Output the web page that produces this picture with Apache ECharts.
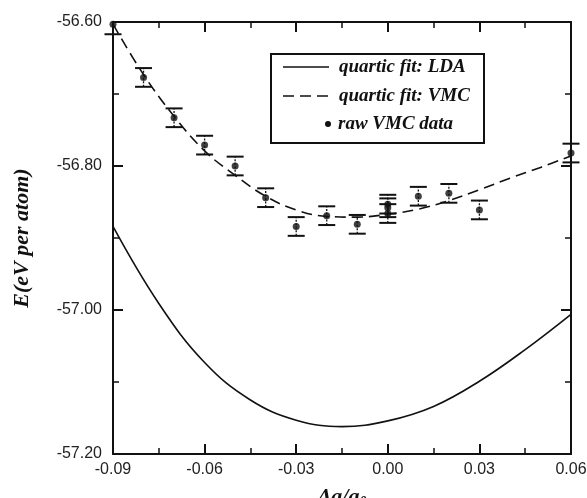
<!DOCTYPE html>
<html>
<head>
<meta charset="utf-8">
<title>quartic fit: LDA vs VMC</title>
<script src="https://cdn.jsdelivr.net/npm/echarts@6/dist/echarts.min.js"></script>
<style>
  html, body { margin: 0; padding: 0; background: #fff; }
  #chart { width: 587px; height: 498px; }
</style>
</head>
<body>
<div id="chart"></div>
<script>
// LDA quartic fit
const ldaX = [-0.09, -0.075, -0.06, -0.045, -0.03, -0.015, 0.0, 0.015, 0.03, 0.045, 0.06]
const ldaE = [-56.884, -56.991, -57.073, -57.125, -57.153, -57.162, -57.154, -57.134, -57.099, -57.055, -57.006]

// VMC quartic fit
const vmcFitX = [-0.09, -0.08, -0.07, -0.06, -0.05, -0.04, -0.03, -0.02, -0.01, 0.0, 0.01, 0.02, 0.03, 0.04, 0.05, 0.06]
const vmcFitE = [-56.603, -56.673, -56.731, -56.779, -56.813, -56.842, -56.861, -56.870, -56.871, -56.867, -56.860, -56.848, -56.833, -56.817, -56.802, -56.786]

// raw VMC data with error bars
const vmcX = [-0.09, -0.08, -0.07, -0.06, -0.05, -0.04, -0.03, -0.02, -0.01, 0.0, 0.0, 0.0, 0.01, 0.02, 0.03, 0.06]
const vmcE = [-56.603, -56.677, -56.733, -56.771, -56.800, -56.844, -56.884, -56.869, -56.881, -56.853, -56.858, -56.866, -56.842, -56.838, -56.861, -56.782]
const vmcErr = [0.014, 0.013, 0.013, 0.013, 0.013, 0.013, 0.013, 0.013, 0.013, 0.013, 0.013, 0.013, 0.013, 0.013, 0.013, 0.013]

const xTicks = { min: -0.09, max: 0.06, interval: 0.03 }
const yTicks = { min: -57.2, max: -56.6, interval: 0.2 }

const ink = '#111'
const sansFont = '"Liberation Sans", Arial, sans-serif'
const serifFont = '"Liberation Serif", "Times New Roman", serif'

const chart = echarts.init(document.getElementById('chart'), null, { renderer: 'canvas' })

const fmt = v => (Math.abs(v) < 1e-9 ? 0 : v).toFixed(2)

// common axis look: thick frame, ticks pointing inward
function axisBase(showLabel) {
  return {
    type: 'value',
    axisLine: { show: true, onZero: false, lineStyle: { color: ink, width: 2 } },
    axisTick: { show: true, inside: true, length: 10, lineStyle: { color: ink, width: 2 } },
    minorTick: { show: true, splitNumber: 2, length: 6, lineStyle: { color: ink, width: 1.5 } },
    splitLine: { show: false },
    minorSplitLine: { show: false },
    axisLabel: {
      show: showLabel,
      formatter: fmt,
      color: '#222',
      fontFamily: sansFont,
      fontSize: 16
    }
  }
}

const xBottom = Object.assign(axisBase(true), xTicks, {
  position: 'bottom',
  name: '{a|Δa/a}{s|0}',
  nameLocation: 'middle',
  nameGap: 31,
  nameTextStyle: {
    rich: {
      a: { fontFamily: serifFont, fontSize: 22, fontWeight: 'bold', fontStyle: 'italic', color: '#111' },
      s: { fontFamily: serifFont, fontSize: 14, fontWeight: 'bold', fontStyle: 'italic', color: '#111', verticalAlign: 'bottom', padding: [10, 0, 0, 0] }
    }
  }
})
xBottom.axisLabel.margin = 8

const xTop = Object.assign(axisBase(false), xTicks, { position: 'top' })

const yLeft = Object.assign(axisBase(true), yTicks, {
  position: 'left',
  name: 'E(eV per atom)',
  nameLocation: 'middle',
  nameGap: 80,
  nameTextStyle: {
    fontFamily: serifFont,
    fontSize: 22,
    fontWeight: 'bold',
    fontStyle: 'italic',
    color: '#111'
  }
})
yLeft.axisLabel.margin = 11

const yRight = Object.assign(axisBase(false), yTicks, { position: 'right' })

const option = {
  animation: false,
  backgroundColor: '#fff',
  grid: { left: 113, right: 16, top: 22, bottom: 44, outerBoundsMode: 'none', containLabel: false },
  xAxis: [xBottom, xTop],
  yAxis: [yLeft, yRight],
  graphic: [
    // legend box, drawn by hand to match the framed key
    {
      type: 'group',
      left: 270,
      top: 53,
      children: [
        { type: 'rect', shape: { x: 0, y: 0, width: 213, height: 89 }, style: { fill: '#fff', stroke: ink, lineWidth: 2 } },
        { type: 'line', shape: { x1: 12, y1: 13, x2: 58, y2: 13 }, style: { stroke: ink, lineWidth: 1.6 } },
        { type: 'text', x: 68, y: 13, style: { text: 'quartic fit: LDA', font: 'italic bold 19px ' + serifFont, fill: '#111', verticalAlign: 'middle' } },
        { type: 'line', shape: { x1: 12, y1: 42, x2: 58, y2: 42 }, style: { stroke: ink, lineWidth: 1.6, lineDash: [11, 6] } },
        { type: 'text', x: 68, y: 42, style: { text: 'quartic fit: VMC', font: 'italic bold 19px ' + serifFont, fill: '#111', verticalAlign: 'middle' } },
        { type: 'circle', shape: { cx: 57, cy: 70, r: 3 }, style: { fill: ink } },
        { type: 'text', x: 67, y: 70, style: { text: 'raw VMC data', font: 'italic bold 19px ' + serifFont, fill: '#111', verticalAlign: 'middle' } }
      ]
    }
  ],
  series: [
    {
      name: 'quartic fit: LDA',
      type: 'line',
      data: ldaX.map((x, i) => [x, ldaE[i]]),
      smooth: 0.4,
      symbol: 'none',
      lineStyle: { color: ink, width: 1.6 }
    },
    {
      name: 'quartic fit: VMC',
      type: 'line',
      data: vmcFitX.map((x, i) => [x, vmcFitE[i]]),
      smooth: 0.4,
      symbol: 'none',
      lineStyle: { color: ink, width: 1.6, type: [11, 6] }
    },
    {
      name: 'error bars',
      type: 'custom',
      data: vmcX.map((x, i) => [x, vmcE[i] - vmcErr[i], vmcE[i] + vmcErr[i]]),
      renderItem: function (params, api) {
        const x = api.value(0)
        const lo = api.coord([x, api.value(1)])
        const hi = api.coord([x, api.value(2)])
        const top = params.coordSys.y
        const hw = 8.5
        const kids = []
        const stemTop = Math.max(hi[1], top)
        kids.push({ type: 'line', shape: { x1: lo[0], y1: lo[1], x2: hi[0], y2: stemTop }, style: { stroke: ink, lineWidth: 1.3, lineDash: [2, 1.5] } })
        kids.push({ type: 'line', shape: { x1: lo[0] - hw, y1: lo[1], x2: lo[0] + hw, y2: lo[1] }, style: { stroke: ink, lineWidth: 2 } })
        if (hi[1] >= top) {
          kids.push({ type: 'line', shape: { x1: hi[0] - hw, y1: hi[1], x2: hi[0] + hw, y2: hi[1] }, style: { stroke: ink, lineWidth: 2 } })
        }
        return { type: 'group', children: kids }
      },
      z: 3
    },
    {
      name: 'raw VMC data',
      type: 'scatter',
      data: vmcX.map((x, i) => [x, vmcE[i]]),
      symbol: 'circle',
      symbolSize: 7,
      itemStyle: { color: ink },
      z: 4
    }
  ]
}

chart.setOption(option)
</script>
</body>
</html>
